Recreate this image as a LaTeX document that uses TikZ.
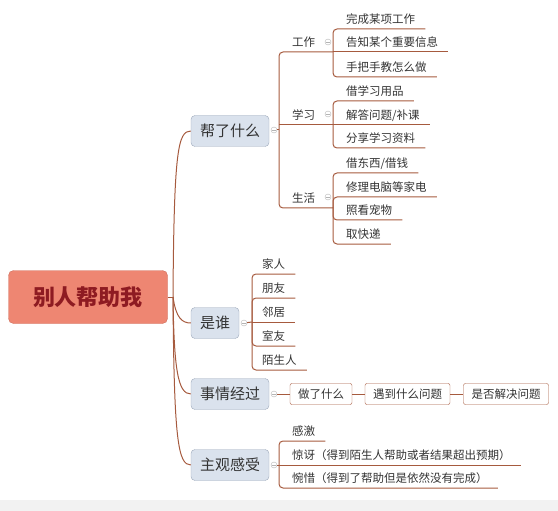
\documentclass[tikz,border=0pt]{standalone}
\usepackage{fontspec}
\setmainfont{Noto Sans CJK SC}
\definecolor{branch}{HTML}{A65A3E}
\definecolor{rootfill}{HTML}{EE8672}
\definecolor{rootline}{HTML}{CF6E5C}
\definecolor{roottext}{HTML}{8E1B22}
\definecolor{topicfill}{HTML}{DAE2ED}
\definecolor{topicline}{HTML}{9CA8BA}
\definecolor{txt}{HTML}{333333}
\definecolor{foldline}{HTML}{B4B4B4}
\tikzset{
  root/.style={draw=rootline, fill=rootfill, rounded corners=5pt, minimum width=159pt,
    minimum height=53pt, text=roottext, font=\fontsize{22}{22}\selectfont\bfseries},
  topic/.style={draw=topicline, fill=topicfill, rounded corners=4pt, minimum height=31pt,
    inner xsep=9pt, text=txt, font=\fontsize{15}{15}\selectfont},
  leaf/.style={anchor=south west, inner xsep=10pt, inner ysep=3pt, text height=9pt,
    text depth=2.5pt, text=txt, font=\fontsize{11.5}{11.5}\selectfont},
  stepbox/.style={draw=branch, fill=white, rounded corners=2pt, minimum height=21pt,
    inner xsep=8pt, text=txt, font=\fontsize{11.5}{11.5}\selectfont},
  link/.style={draw=branch, line width=1pt},
  fold/.style={circle, draw=foldline, fill=white, inner sep=0pt, minimum size=6pt,
    path picture={\draw[foldline, line width=0.5pt]
      ([xshift=-1.6pt]path picture bounding box.center) --
      ([xshift=1.6pt]path picture bounding box.center);}},
}
\begin{document}
\begin{tikzpicture}[x=1pt, y=-1pt]

\useasboundingbox (0,0) rectangle (558,511);
\fill[black!5] (0,500) rectangle (558,511);

% root and main topics
\node[root] (root) at (88,297) {别人帮助我};
\coordinate (rj) at (173,297);
\node[topic] (help) at (230,131) {帮了什么};
\node[topic] (who) at (215,323) {是谁};
\node[topic] (proc) at (230,394) {事情经过};
\node[topic] (feel) at (230,465) {主观感受};

\draw[link] (root.east) -- (rj);
\draw[link] (rj) .. controls (174,150) and (178,131) .. (help.west);
\draw[link] (rj) .. controls (176,318) and (182,323) .. (who.west);
\draw[link] (rj) .. controls (174,370) and (178,394) .. (proc.west);
\draw[link] (rj) .. controls (174,440) and (178,465) .. (feel.west);

% fold markers
\node[fold] (mhelp) at (274,130) {};
\node[fold] (mwho) at (244,323) {};
\node[fold] (mproc) at (274,394) {};
\node[fold] (mfeel) at (274,465) {};

% 帮了什么
\coordinate (helpj) at (279,130);
\coordinate (workj) at (333,52);
\coordinate (studyj) at (333,125);
\coordinate (lifej) at (333,208);
\node[leaf] (work) at (282,52) {工作};
\node[leaf] (study) at (282,125) {学习};
\node[leaf] (life) at (282,208) {生活};
\node[fold] (mwork) at (328,42) {};
\node[fold] (mstudy) at (328,114) {};
\node[fold] (mlife) at (328,197) {};
\draw[link] (mhelp) -- (helpj);
\draw[link, rounded corners=4pt] (helpj) |- (workj);
\draw[link] (helpj |- studyj) -- (studyj);
\draw[link, rounded corners=4pt] (helpj) |- (lifej);

\node[leaf] (w1) at (336,29) {完成某项工作};
\node[leaf] (w2) at (336,52) {告知某个重要信息};
\node[leaf] (w3) at (336,77) {手把手教怎么做};
\draw[link, rounded corners=4pt] (workj) |- (w1.south east);
\draw[link] (workj) -- (w2.south east);
\draw[link, rounded corners=4pt] (workj) |- (w3.south east);

\node[leaf] (s1) at (336,101) {借学习用品};
\node[leaf] (s2) at (336,125) {解答问题/补课};
\node[leaf] (s3) at (336,148) {分享学习资料};
\draw[link, rounded corners=4pt] (studyj) |- (s1.south east);
\draw[link] (studyj) -- (s2.south east);
\draw[link, rounded corners=4pt] (studyj) |- (s3.south east);

\node[leaf] (l1) at (336,173) {借东西/借钱};
\node[leaf] (l2) at (336,197) {修理电脑等家电};
\node[leaf] (l3) at (336,220) {照看宠物};
\node[leaf] (l4) at (336,244) {取快递};
\foreach \n in {l1,l2,l3,l4}
  \draw[link, rounded corners=4pt] (lifej) |- (\n.south east);

% 是谁
\coordinate (whoj) at (252,322);
\draw[link] (mwho) -- (whoj);
\node[leaf] (p1) at (252,274) {家人};
\node[leaf] (p2) at (252,298) {朋友};
\node[leaf] (p3) at (252,322) {邻居};
\node[leaf] (p4) at (252,346) {室友};
\node[leaf] (p5) at (252,370) {陌生人};
\draw[link] (whoj) -- (p3.south east);
\foreach \n in {p1,p2,p4,p5}
  \draw[link, rounded corners=4pt] (whoj) |- (\n.south east);

% 事情经过
\node[stepbox] (b1) at (321,394) {做了什么};
\node[stepbox] (b2) at (407.5,394) {遇到什么问题};
\node[stepbox] (b3) at (506,394) {是否解决问题};
\draw[link] (mproc) -- (b1);
\draw[link] (b1) -- (b2);
\draw[link] (b2) -- (b3);

% 主观感受
\coordinate (feelj) at (279,465);
\draw[link] (mfeel) -- (feelj);
\node[leaf] (f1) at (282,441) {感激};
\node[leaf] (f2) at (282,465) {惊讶（得到陌生人帮助或者结果超出预期）};
\node[leaf] (f3) at (282,488) {惋惜（得到了帮助但是依然没有完成）};
\draw[link, rounded corners=4pt] (feelj) |- (f1.south east);
\draw[link] (feelj) -- (f2.south east);
\draw[link, rounded corners=4pt] (feelj) |- (f3.south east);

\end{tikzpicture}
\end{document}
